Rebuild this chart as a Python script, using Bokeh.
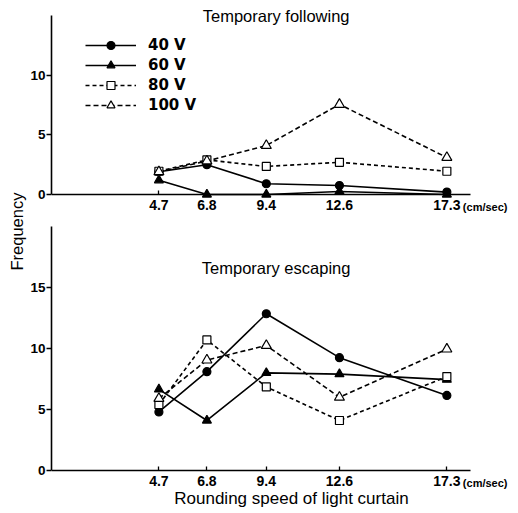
import math
from bokeh.plotting import figure
from bokeh.models import Label, Legend, LegendItem, FixedTicker, Range1d
from bokeh.layouts import row, column
from bokeh.embed import file_html
from bokeh.resources import INLINE

# ---------------- data ----------------
speeds = [4.7, 6.8, 9.4, 12.6, 17.3]
speed_labels = ["4.7", "6.8", "9.4", "12.6", "17.3"]
series_names = ["40 V", "60 V", "80 V", "100 V"]

follow_40 = [1.9, 2.5, 0.9, 0.75, 0.2]
follow_60 = [1.2, 0.0, 0.0, 0.25, 0.0]
follow_80 = [1.95, 2.9, 2.35, 2.7, 1.95]
follow_100 = [1.9, 2.8, 4.1, 7.55, 3.1]

escape_40 = [4.8, 8.1, 12.85, 9.25, 6.15]
escape_60 = [6.65, 4.1, 8.0, 7.9, 7.45]
escape_80 = [5.4, 10.7, 6.85, 4.1, 7.7]
escape_100 = [5.9, 9.05, 10.25, 6.0, 9.95]

follow_yticks = [0, 5, 10]
escape_yticks = [0, 5, 10, 15]
follow_ymax = 15
escape_ymax = 20
x_axis_end = 18.35

# ---------------- styles / layout constants ----------------
styles = [
    dict(dash="solid", marker="circle", fill="black", size=8),
    dict(dash="solid", marker="triangle", fill="black", size=9),
    dict(dash="4 3", marker="square", fill="white", size=8),
    dict(dash="5 3", marker="triangle", fill="white", size=10),
]

FONT = "Liberation Sans"
STRIP_W = 27
BORDER_L = 21
MAIN_W = 490
PX_PER_X = 23.0
FRAME_W = MAIN_W - BORDER_L


def make_panel(height, zero_px, scale, y_axis_max, yticks):
    # zero_px: distance from top of this figure to y=0 ; scale: px per unit
    y_start = -(height - zero_px) / scale
    y_end = zero_px / scale
    p = figure(width=MAIN_W, height=height, output_backend="svg",
               toolbar_location=None,
               x_range=Range1d(0, FRAME_W / PX_PER_X),
               y_range=Range1d(y_start, y_end),
               min_border_left=BORDER_L, min_border_right=0,
               min_border_top=0, min_border_bottom=0)
    p.outline_line_color = None
    p.xgrid.grid_line_color = None
    p.ygrid.grid_line_color = None
    p.background_fill_color = "white"
    p.border_fill_color = "white"

    p.xaxis.fixed_location = 0
    p.xaxis.bounds = (0, x_axis_end)
    p.xaxis.ticker = FixedTicker(ticks=speeds)
    p.xaxis.major_label_overrides = {s: l for s, l in zip(speeds, speed_labels)}
    p.xaxis.major_tick_in = 4
    p.xaxis.major_tick_out = 0
    p.xaxis.minor_tick_line_color = None
    p.xaxis.major_label_standoff = 5

    p.yaxis.bounds = (0, y_axis_max)
    p.yaxis.ticker = FixedTicker(ticks=yticks)
    p.yaxis.major_tick_in = 0
    p.yaxis.major_tick_out = 5
    p.yaxis.minor_tick_line_color = None
    p.yaxis.major_label_standoff = 1

    for ax in (p.xaxis, p.yaxis):
        ax.axis_line_width = 1.6
        ax.axis_line_color = "black"
        ax.major_tick_line_color = "black"
        ax.major_tick_line_width = 1.3
        ax.major_label_text_font = FONT
        ax.major_label_text_font_style = "bold"
        ax.major_label_text_color = "black"
    p.xaxis.major_label_text_font_size = "14px"
    p.yaxis.major_label_text_font_size = "13.5px"
    return p


def draw_series(p, ys_list):
    lines = []
    for ys, st in zip(ys_list, styles):
        lines.append(p.line(speeds, ys, line_color="black", line_width=1.6,
                            line_dash=st["dash"]))
    items = []
    for name, ys, st, lr in zip(series_names, ys_list, styles, lines):
        sr = p.scatter(speeds, ys, marker=st["marker"], size=st["size"],
                       fill_color=st["fill"], line_color="black",
                       line_width=1.2)
        items.append(LegendItem(label=name, renderers=[lr, sr]))
    return items


def add_unit(p):
    p.add_layout(Label(x=17.3, y=0, x_offset=16, y_offset=-12.5,
                       text="(cm/sec)", text_align="left",
                       text_baseline="middle", text_font=FONT,
                       text_font_style="bold", text_font_size="11px",
                       text_color="black"))


# ---------------- top panel ----------------
TOP_H = 216
top = make_panel(TOP_H, 194, 179 / 15, follow_ymax, follow_yticks)
leg_items = draw_series(top, [follow_40, follow_60, follow_80, follow_100])
legend = Legend(items=leg_items, location=(34, TOP_H - 35 - 80), padding=0,
                margin=0, spacing=0, glyph_width=51, glyph_height=20,
                label_height=20, label_standoff=12, border_line_color=None,
                background_fill_alpha=0, label_text_font="DejaVu Sans",
                label_text_font_style="bold", label_text_font_size="15px",
                label_text_color="black")
top.add_layout(legend)
top.add_layout(Label(x=9.93, y=15, text="Temporary  following",
                     text_align="center", text_baseline="middle",
                     text_font=FONT, text_font_size="16.5px",
                     text_color="black"))
add_unit(top)

# ---------------- bottom panel ----------------
BOT_H = 296
bottom = make_panel(BOT_H, 470 - TOP_H, 244 / 20, escape_ymax, escape_yticks)
draw_series(bottom, [escape_40, escape_60, escape_80, escape_100])
bottom.add_layout(Label(x=9.93, y=16.6, text="Temporary  escaping",
                        text_align="center", text_baseline="middle",
                        text_font=FONT, text_font_size="16.5px",
                        text_color="black"))
bottom.add_layout(Label(x=10.5, y=-2.3, text="Rounding speed of light curtain",
                        text_align="center", text_baseline="middle",
                        text_font=FONT, text_font_size="17px",
                        text_color="black"))
add_unit(bottom)

# ---------------- shared y label strip ----------------
TOTAL_H = TOP_H + BOT_H
strip = figure(width=STRIP_W, height=TOTAL_H, output_backend="svg",
               toolbar_location=None, x_range=Range1d(0, STRIP_W),
               y_range=Range1d(0, TOTAL_H), min_border=0)
strip.axis.visible = False
strip.grid.grid_line_color = None
strip.outline_line_color = None
strip.add_layout(Label(x=16.5, y=TOTAL_H - 231, text="Frequency",
                       angle=math.pi / 2, text_align="center",
                       text_baseline="middle", text_font=FONT,
                       text_font_size="16.5px", text_color="black"))

layout = row(strip, column(top, bottom, spacing=0), spacing=0)

with open("out.html", "w") as f:
    f.write(file_html(layout, INLINE))
